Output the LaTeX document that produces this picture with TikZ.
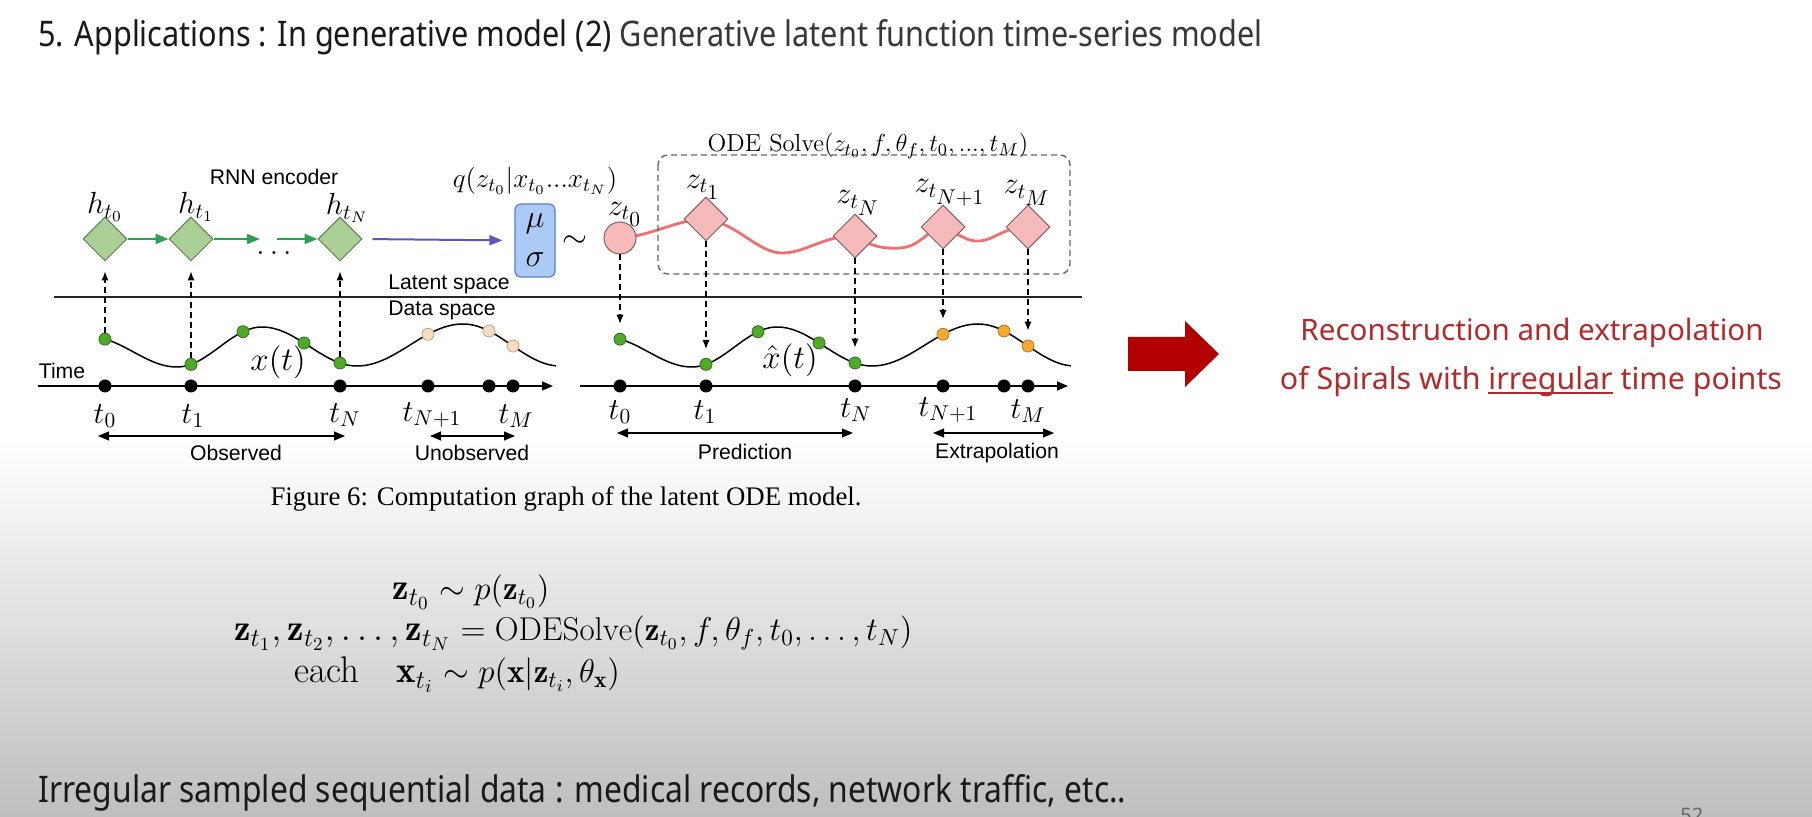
\RequirePackage{fix-cm}
\documentclass[tikz,border=0pt]{standalone}
\usepackage{amsmath}
\usepackage{fontspec}
\usepackage{graphicx}
\usetikzlibrary{shapes.geometric,arrows.meta,calc}
\newfontfamily\titlefont{Noto Sans}
\newfontfamily\arialfont{Liberation Sans}
\newfontfamily\timesfont{Liberation Serif}
\definecolor{dgreen}{RGB}{45,160,80}
\definecolor{diagreen}{RGB}{170,208,150}
\definecolor{diagreenb}{RGB}{95,125,85}
\definecolor{pinkf}{RGB}{246,186,186}
\definecolor{pinkb}{RGB}{130,95,95}
\definecolor{redc}{RGB}{240,112,112}
\definecolor{purp}{RGB}{95,85,190}
\definecolor{boxblue}{RGB}{172,202,246}
\definecolor{boxblueb}{RGB}{90,125,195}
\definecolor{gdot}{RGB}{80,170,40}
\definecolor{gdotb}{RGB}{45,110,25}
\definecolor{pdot}{RGB}{246,222,196}
\definecolor{pdotb}{RGB}{200,160,120}
\definecolor{odot}{RGB}{246,168,50}
\definecolor{odotb}{RGB}{180,120,30}
\definecolor{darkred}{RGB}{178,0,0}
\definecolor{textred}{RGB}{178,42,42}
\definecolor{bggray}{RGB}{190,190,190}
\newcommand\myuline[1]{\setbox0\hbox{#1}\rlap{\rule[-1.7pt]{\wd0}{0.75pt}}\box0\relax}
\pgfdeclarelayer{background}
\pgfsetlayers{background,main}
\pgfmathdeclarefunction{wav}{1}{%
  \begingroup
  \pgfmathparse{#1<177 ? 337+15*(1-cos((#1-90)/87*180)) : (#1<262 ? 367-20*(1-cos((#1-177)/85*180)) : (#1<357 ? 327+19.5*(1-cos((#1-262)/95*180)) : (#1<463 ? 366-21*(1-cos((#1-357)/106*180)) : 324+21*(1-cos((#1-463)/97*180)))))}%
  \pgfmathsmuggle\pgfmathresult
  \endgroup}
\tikzset{
  hdia/.style={diamond, draw=diagreenb, fill=diagreen, minimum size=22pt, inner sep=0pt, line width=0.5pt},
  zdia/.style={diamond, draw=pinkb, fill=pinkf, minimum size=22pt, inner sep=0pt, line width=0.5pt},
  zcirc/.style={circle, draw=pinkb, fill=pinkf, minimum size=16pt, inner sep=0pt, line width=0.5pt},
  gdotst/.style={circle, draw=gdotb, fill=gdot, minimum size=6pt, inner sep=0pt, line width=0.4pt},
  pdotst/.style={circle, draw=pdotb, fill=pdot, minimum size=6pt, inner sep=0pt, line width=0.4pt},
  odotst/.style={circle, draw=odotb, fill=odot, minimum size=6pt, inner sep=0pt, line width=0.4pt},
  tdot/.style={circle, fill=black, minimum size=6.5pt, inner sep=0pt},
  mlab/.style={font=\fontsize{15.3}{17}\selectfont, inner sep=0pt},
  slab/.style={font=\arialfont\fontsize{10.6}{12}\selectfont, inner sep=0pt},
  eqn/.style={font=\fontsize{16.5}{19}\selectfont, inner sep=0pt},
  eqnl/.style={font=\fontsize{18.5}{21}\selectfont, inner sep=0pt},
  dasharr/.style={dash pattern=on 3pt off 2pt, line width=0.6pt, -{Latex[length=4.5pt,width=3.6pt]}},
  garr/.style={dgreen, line width=1pt, -{Triangle[length=6.5pt,width=5pt]}},
  parr/.style={purp, line width=1pt, -{Triangle[length=6.5pt,width=5pt]}},
  axisarr/.style={line width=0.7pt, -{Triangle[length=5.5pt,width=4.5pt]}},
  spanarr/.style={line width=0.6pt, {Triangle[length=5.5pt,width=4.5pt]}-{Triangle[length=5.5pt,width=4.5pt]}},
  wave/.style={line width=0.75pt, black},
  redwave/.style={redc, line width=1.4pt},
}
\begin{document}
\begin{tikzpicture}[x=0.5pt,y=-0.5pt]
\useasboundingbox (0,0) rectangle (1812,817);
\begin{pgfonlayer}{background}
\fill[white] (0,0) rectangle (1812,817);
\shade[top color=white, bottom color=bggray] (0,440) rectangle (1812,817);
\end{pgfonlayer}

% title
\node[anchor=base west, inner sep=0pt] (title) at (38,47) {\scalebox{1}[1.15]{\resizebox{612pt}{!}{\titlefont\fontsize{12}{14}\selectfont\color[RGB]{25,25,25}5. Applications : In generative model (2)\ \color[RGB]{55,55,55}Generative latent function time-series model}}};

% ---------- encoder (left, latent) ----------
\node[hdia] (h0) at (105,239) {};
\node[hdia] (h1) at (191,239) {};
\node[hdia] (hN) at (340,239) {};
\node[mlab] (h0l) at (105,207) {$h_{t_0}$};
\node[mlab] (h1l) at (196,207) {$h_{t_1}$};
\node[mlab] (hNl) at (347,208) {$h_{t_N}$};
\node[slab] (rnn) at (274,177) {RNN encoder};
\coordinate (gA) at (260,239);
\coordinate (gB) at (277,239);
\node[mlab] (ell) at (274,253) {$\ldots$};
\draw[garr] (h0.east) -- (h1.west);
\draw[garr] (h1.east) -- (gA);
\draw[garr] (gB) -- (hN.west);

\node[draw=boxblueb, fill=boxblue, rounded corners=3pt, minimum width=20pt, minimum height=36.5pt, inner sep=0pt, line width=0.6pt, align=center, font=\fontsize{16}{19.5}\selectfont] (ms) at (535,240.5) {$\mu$\\$\sigma$};
\draw[parr, shorten <=5pt, shorten >=6pt] (hN.east) -- (ms.west);
\node[font=\fontsize{13.6}{16}\selectfont, inner sep=0pt] (ql) at (535,181) {$q(z_{t_0}|x_{t_0}...x_{t_N})$};
\node[font=\fontsize{16}{18}\selectfont, inner sep=0pt] (sim) at (575,242) {$\sim$};

% ---------- decoder (right, latent) ----------
\node[zcirc] (z0) at (620,238) {};
\node[zdia] (z1) at (706,219) {};
\node[zdia] (zN) at (855,236) {};
\node[zdia] (zN1) at (943,227) {};
\node[zdia] (zM) at (1028,227) {};
\node[mlab] (z0l) at (625,214) {$z_{t_{\scriptstyle 0}}$};
\node[mlab] (z1l) at (703,187) {$z_{t_{\scriptstyle 1}}$};
\node[mlab] (zNl) at (858,203) {$z_{t_{\scriptstyle N}}$};
\node[mlab] (zN1l) at (950,193) {$z_{t_{\scriptstyle N+1}}$};
\node[mlab] (zMl) at (1027,193) {$z_{t_{\scriptstyle M}}$};
\draw[dash pattern=on 3pt off 2pt, line width=0.7pt, draw=gray!80!black, rounded corners=5pt] (658,155) rectangle (1070,274);
\node[font=\fontsize{12.3}{14}\selectfont, inner sep=0pt] (ode) at (868,146) {ODE Solve$(z_{t_0},f,\theta_f,t_0,...,t_M)$};

\begin{pgfonlayer}{background}
\draw[redwave] (z0.center) .. controls (652,236) and (678,219) .. (z1.center)
  .. controls (738,224) and (758,253) .. (782,253)
  .. controls (806,253) and (822,236) .. (zN.center)
  .. controls (872,247) and (884,249) .. (900,248)
  .. controls (920,247) and (928,229) .. (zN1.center)
  .. controls (962,236) and (968,242) .. (980,241)
  .. controls (994,240) and (1004,227) .. (zM.center);
\end{pgfonlayer}

% separator
\coordinate (sepL) at (54,297);
\coordinate (sepR) at (1082,297);
\draw[line width=0.8pt, black!85] (sepL) -- (sepR);
\node[slab, anchor=west] (lat) at (388,284) {Latent space};
\node[slab, anchor=west] (dat) at (388,310) {Data space};

% ---------- data space left ----------
\draw[wave] plot[domain=105:556, samples=160] (\x, {wav(\x)});
\node[gdotst] (ld0) at (105,{wav(105)}) {};
\node[gdotst] (ld1) at (191,{wav(191)}) {};
\node[gdotst] (lga) at (243,{wav(243)}) {};
\node[gdotst] (lgb) at (304,{wav(304)}) {};
\node[gdotst] (ldN) at (340,{wav(340)}) {};
\node[pdotst] (lp1) at (428,{wav(428)}) {};
\node[pdotst] (lp2) at (489,{wav(489)}) {};
\node[pdotst] (lp3) at (513,{wav(513)}) {};
\node[font=\fontsize{16.5}{18}\selectfont, inner sep=0pt] (xl) at (278,362) {$x(t)$};
\draw[dasharr, shorten >=5pt] (ld0) -- (h0);
\draw[dasharr, shorten >=5pt] (ld1) -- (h1);
\draw[dasharr, shorten >=5pt] (ldN) -- (hN);

\coordinate (axL0) at (38,386);
\coordinate (axL1) at (553,386);
\draw[axisarr] (axL0) -- (axL1);
\node[slab] (time) at (62,371) {Time};
\foreach \n/\xx in {lt0/105, lt1/191, ltN/340, ltN1/428, lt5/489, ltM/513} {
  \node[tdot] (\n) at (\xx,386) {};
}
\node[mlab] (lbt0) at (105,416) {$t_0$};
\node[mlab] (lbt1) at (193,416) {$t_1$};
\node[mlab] (lbtN) at (345,415) {$t_N$};
\node[mlab] (lbtN1) at (432,415) {$t_{N+1}$};
\node[mlab] (lbtM) at (516,416) {$t_M$};
\coordinate (obA) at (98,436);
\coordinate (obB) at (345,436);
\draw[spanarr] (obA) -- (obB);
\node[slab] (obs) at (236,453) {Observed};
\coordinate (unA) at (430,436);
\coordinate (unB) at (515,436);
\draw[spanarr] (unA) -- (unB);
\node[slab] (unobs) at (472,453) {Unobserved};

% ---------- data space right ----------
\draw[wave] plot[domain=105:556, samples=160] ({\x+515}, {wav(\x)});
\node[gdotst] (rd0) at (620,{wav(105)}) {};
\node[gdotst] (rd1) at (706,{wav(191)}) {};
\node[gdotst] (rga) at (758,{wav(243)}) {};
\node[gdotst] (rgb) at (819,{wav(304)}) {};
\node[gdotst] (rdN) at (855,{wav(340)}) {};
\node[odotst] (ro1) at (943,{wav(428)}) {};
\node[odotst] (ro2) at (1004,{wav(489)}) {};
\node[odotst] (ro3) at (1028,{wav(513)}) {};
\node[font=\fontsize{16.5}{18}\selectfont, inner sep=0pt] (xhl) at (790,360) {$\hat{x}(t)$};
\draw[dasharr, shorten >=4.5pt] (z0) -- (rd0);
\draw[dasharr, shorten >=4.5pt] (z1) -- (rd1);
\draw[dasharr, shorten >=4.5pt] (zN) -- (rdN);
\draw[dasharr, shorten >=4.5pt] (zN1) -- (ro1);
\draw[dasharr, shorten >=4.5pt] (zM) -- (ro3);

\coordinate (axR0) at (580,386);
\coordinate (axR1) at (1068,386);
\draw[axisarr] (axR0) -- (axR1);
\foreach \n/\xx in {rt0/620, rt1/706, rtN/855, rtN1/943, rt5/1004, rtM/1028} {
  \node[tdot] (\n) at (\xx,386) {};
}
\node[mlab] (rbt0) at (620,412) {$t_0$};
\node[mlab] (rbt1) at (705,412) {$t_1$};
\node[mlab] (rbtN) at (856,410) {$t_N$};
\node[mlab] (rbtN1) at (948,410) {$t_{N+1}$};
\node[mlab] (rbtM) at (1028,411) {$t_M$};
\coordinate (prA) at (617,433);
\coordinate (prB) at (853,433);
\draw[spanarr] (prA) -- (prB);
\node[slab] (pred) at (745,452) {Prediction};
\coordinate (exA) at (933,433);
\coordinate (exB) at (1054,433);
\draw[spanarr] (exA) -- (exB);
\node[slab] (extr) at (997,453) {Extrapolation};

% caption
\node[inner sep=0pt, font=\timesfont\fontsize{13.4}{15}\selectfont] (cap) at (566,499) {Figure 6: Computation graph of the latent ODE model.};

% equations
\node[eqnl, anchor=base east] (e1l) at (430,600) {$\mathbf{z}_{t_0}$};
\node[eqn, anchor=base west] (e1r) at (430,600) {${}\sim p(\mathbf{z}_{t_0})$};
\node[eqnl, anchor=base east] (e2l) at (451,641) {$\mathbf{z}_{t_1},\mathbf{z}_{t_2},\ldots,\mathbf{z}_{t_N}$};
\node[eqn, anchor=base west] (e2r) at (451,641) {${}=\mathrm{ODESolve}(\mathbf{z}_{t_0},f,\theta_f,t_0,\ldots,t_N)$};
\node[eqnl, anchor=base east] (e3l) at (434,683) {each\quad$\mathbf{x}_{t_i}$};
\node[eqn, anchor=base west] (e3r) at (434,683) {${}\sim p(\mathbf{x}|\mathbf{z}_{t_i},\theta_{\mathbf{x}})$};

% red arrow and text
\fill[darkred] (1128,337) -- (1185,337) -- (1185,321) -- (1219,354) -- (1185,387) -- (1185,371) -- (1128,371) -- cycle;
\node[anchor=base, inner sep=0pt, text=textred] (rt1) at (1532,341) {\resizebox{231.5pt}{!}{\titlefont\fontsize{12}{14}\selectfont Reconstruction and extrapolation}};
\node[anchor=base, inner sep=0pt, text=textred] (rt2) at (1531,390) {\resizebox{251pt}{!}{\titlefont\fontsize{12}{14}\selectfont of Spirals with \myuline{irregular} time points}};

% bottom
\node[anchor=base west, inner sep=0pt] (bot) at (38,803) {\scalebox{1}[1.15]{\resizebox{544pt}{!}{\titlefont\fontsize{12}{14}\selectfont\color[RGB]{25,25,25}Irregular sampled sequential data : medical records, network traffic, etc..}}};
\node[anchor=north west, inner sep=0pt, text=black!60, font=\titlefont\fontsize{10}{12}\selectfont] (pg) at (1680,808) {52};
\end{tikzpicture}
\end{document}
